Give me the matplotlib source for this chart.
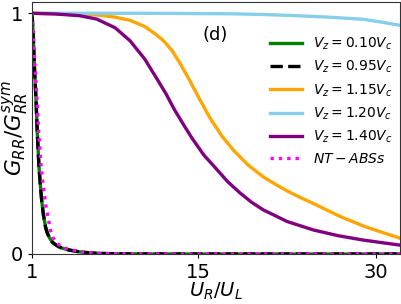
import matplotlib
matplotlib.use("Agg")
import matplotlib.pyplot as plt

# ---- data ----
x_fast = [1, 1.04, 1.09, 1.15, 1.2, 1.27, 1.34, 1.45, 1.59, 1.7, 1.82, 1.97, 2.15, 2.3, 2.5, 2.7, 2.94, 3.2, 3.5, 4.0, 4.5, 5.0, 6.0, 7.0, 8.0, 10, 15, 20, 25, 32]
g_010 = [1, 0.965, 0.917, 0.85, 0.78, 0.71, 0.64, 0.5, 0.36, 0.29, 0.22, 0.16, 0.11, 0.085, 0.065, 0.05, 0.04, 0.032, 0.025, 0.018, 0.013, 0.009, 0.004, 0.002, 0.001, 0.0003, 0, 0, 0, 0]
g_095 = g_010

x_abs = [1, 1.05, 1.1, 1.17, 1.25, 1.33, 1.42, 1.57, 1.77, 1.9, 2.03, 2.2, 2.4, 2.55, 2.75, 3.0, 3.35, 3.75, 4.25, 4.8, 5.4, 6.2, 7.0, 8.0, 10, 15, 20, 25, 32]
g_abs = [1, 0.96, 0.92, 0.85, 0.78, 0.71, 0.64, 0.5, 0.36, 0.3, 0.25, 0.19, 0.14, 0.1, 0.07, 0.05, 0.035, 0.025, 0.018, 0.012, 0.008, 0.004, 0.002, 0.001, 0.0003, 0, 0, 0, 0]

x_115 = [1, 4, 6.5, 8, 9.3, 10.5, 11.5, 12.1, 12.8, 13.5, 14.3, 15.1, 16.0, 17.0, 18.0, 19.2, 20.5, 21.5, 22.5, 23.6, 24.7, 27, 29, 30.5, 32]
g_115 = [1, 0.998, 0.993, 0.984, 0.97, 0.945, 0.91, 0.885, 0.845, 0.79, 0.72, 0.645, 0.565, 0.49, 0.43, 0.37, 0.32, 0.29, 0.262, 0.235, 0.21, 0.155, 0.115, 0.09, 0.066]

x_120 = [1, 5, 10, 14, 17.7, 20.5, 23.3, 26, 28.9, 30.5, 32]
g_120 = [1, 1, 1.0, 0.999, 0.998, 0.995, 0.99, 0.984, 0.975, 0.963, 0.95]

x_140 = [1, 3, 5, 6.45, 8, 9.26, 10.5, 11.5, 12.3, 13, 13.8, 14.5, 15.5, 16.6, 17.5, 18.5, 19.5, 20.5, 22.5, 24.7, 26.8, 28.9, 30.5, 32]
g_140 = [1, 0.997, 0.99, 0.976, 0.94, 0.886, 0.81, 0.73, 0.665, 0.6, 0.535, 0.48, 0.41, 0.35, 0.3, 0.255, 0.215, 0.183, 0.135, 0.1, 0.076, 0.058, 0.047, 0.037]

labels = [r"$V_z=0.10V_c$", r"$V_z=0.95V_c$", r"$V_z=1.15V_c$",
          r"$V_z=1.20V_c$", r"$V_z=1.40V_c$", r"$NT-ABSs$"]
xticks = [1, 15, 30]
yticks = [0, 1]

fig = plt.figure(figsize=(4.02, 3.04), dpi=100)
ax = fig.add_axes([0.0796, 0.1645, 0.915, 0.829])

lw = 2.4
ax.plot(x_fast, g_010, color="green", lw=lw, label=labels[0])
ax.plot(x_fast, g_095, color="black", lw=lw, ls="--", label=labels[1])
ax.plot(x_115, g_115, color="orange", lw=lw, label=labels[2])
ax.plot(x_120, g_120, color="skyblue", lw=lw, label=labels[3])
ax.plot(x_140, g_140, color="purple", lw=lw, label=labels[4])
ax.plot(x_abs, g_abs, color="magenta", lw=lw, ls=(0, (1, 1.5)), label=labels[5])

ax.set_xlim(1, 32)
ax.set_ylim(0, 1.047)
ax.set_xticks(xticks)
ax.set_yticks(yticks)
ax.tick_params(labelsize=14, length=3, width=0.8)
for s in ax.spines.values():
    s.set_linewidth(0.8)
    s.set_color("#333333")

ax.set_xlabel(r"$U_R/U_L$", fontsize=14)
ax.set_ylabel(r"$G_{RR}/G_{RR}^{sym}$", fontsize=15.5)
ax.xaxis.set_label_coords(0.5, -0.107)
ax.yaxis.set_label_coords(-0.003, 0.5)

ax.text(0.497, 0.869, "(d)", transform=ax.transAxes, fontsize=13,
        ha="center", va="center")

ax.legend(loc="upper right", bbox_to_anchor=(0.996, 0.889), borderaxespad=0,
          frameon=False, fontsize=10, handlelength=2.3, handletextpad=0.8)

fig.savefig("out.png", dpi=100)
